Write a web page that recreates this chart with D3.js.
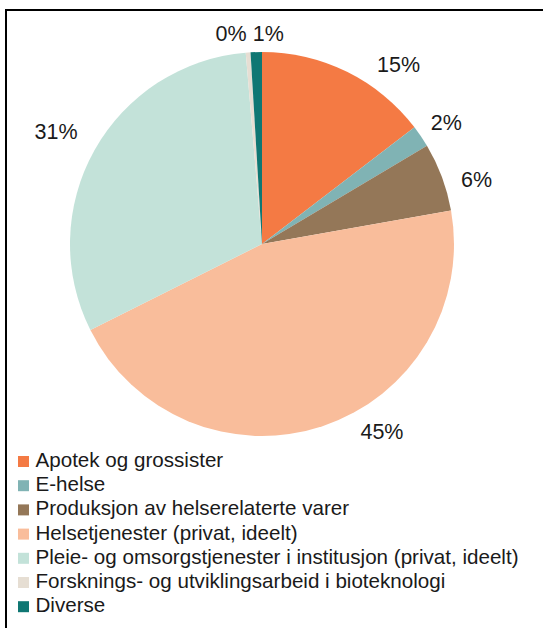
<!DOCTYPE html>
<html>
<head>
<meta charset="utf-8">
<script src="https://cdn.jsdelivr.net/npm/d3@7"></script>
<style>
body { margin: 0; background: #fff; }
svg { display: block; font-family: "Liberation Sans", Arial, sans-serif; }
</style>
</head>
<body>
<svg id="chart"></svg>
<script>
// data (percent of total)
var categories = [
    "Apotek og grossister",
    "E-helse",
    "Produksjon av helserelaterte varer",
    "Helsetjenester (privat, ideelt)",
    "Pleie- og omsorgstjenester i institusjon (privat, ideelt)",
    "Forsknings- og utviklingsarbeid i bioteknologi",
    "Diverse"
]
var shares = [14.6, 1.85, 5.75, 45.4, 31.05, 0.4, 0.95]
var colors = ["#f47a44", "#80b3b4", "#947758", "#f9bd9b", "#c3e2d9", "#e6ded3", "#0f7773"]

// small nudges so labels sit like in the original (degrees / px)
var labelNudge = [9.5, 0, 3.2, -13, 0.6, -4, 3.4]
var labelPush = [3, -2, 0, 0, 7, -6, -8]

var screen = { width: 543, height: 628 }
var pie = { cx: 262, cy: 244, r: 192 }

var svg = d3.select("#chart")
    .attr("width", screen.width)
    .attr("height", screen.height)

// frame (left and top only)
svg.append("path")
    .attr("d", "M6,628 V10 H543")
    .attr("fill", "none")
    .attr("stroke", "#000")
    .attr("stroke-width", 2)

var slices = d3.pie().sort(null).value(function (d) { return d })(shares)

var arc = d3.arc().innerRadius(0).outerRadius(pie.r)

var g = svg.append("g")
    .attr("transform", "translate(" + pie.cx + "," + pie.cy + ")")

g.selectAll("path")
    .data(slices)
    .enter()
    .append("path")
    .attr("d", arc)
    .attr("fill", function (d, i) { return colors[i] })

// percentage labels, outside end
var labelSize = 21.5
g.selectAll("text")
    .data(slices)
    .enter()
    .append("text")
    .text(function (d) { return Math.round(d.data) + "%" })
    .attr("font-size", labelSize)
    .attr("fill", "#1a1a1a")
    .attr("text-anchor", "middle")
    .attr("dy", "0.36em")
    .attr("transform", function (d, i) {
        var a = (d.startAngle + d.endAngle) / 2 + labelNudge[i] * Math.PI / 180
        var rr = pie.r + 15 + labelPush[i]
        var w = this.getComputedTextLength() + 4
        var h = labelSize + 2
        var x = Math.sin(a) * rr + Math.sin(a) * w / 2
        var y = -Math.cos(a) * rr - Math.cos(a) * h / 2
        return "translate(" + x + "," + y + ")"
    })

// legend
var legend = svg.append("g")
    .attr("transform", "translate(18,467)")

var rows = legend.selectAll("g")
    .data(categories)
    .enter()
    .append("g")
    .attr("transform", function (d, i) { return "translate(0," + (i * 24.2) + ")" })

rows.append("rect")
    .attr("x", 0)
    .attr("y", -11)
    .attr("width", 11)
    .attr("height", 11)
    .attr("fill", function (d, i) { return colors[i] })

rows.append("text")
    .attr("x", 17.5)
    .attr("y", 0)
    .attr("font-size", 20.6)
    .attr("fill", "#1a1a1a")
    .text(function (d) { return d })
</script>
</body>
</html>
